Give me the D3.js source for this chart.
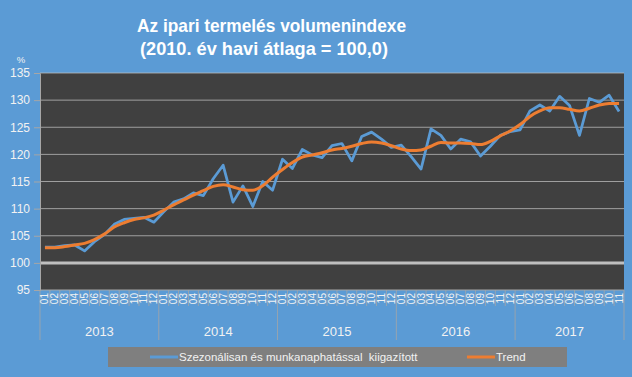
<!DOCTYPE html>
<html>
<head>
<meta charset="utf-8">
<script src="https://cdn.jsdelivr.net/npm/d3@7"></script>
<style>
  body { margin: 0; background: #5b9bd5; }
  svg { display: block; }
  text { font-family: "Liberation Sans", Arial, sans-serif; }
</style>
</head>
<body>
<div id="wrapper"></div>
<script>
const years = [2013, 2014, 2015, 2016, 2017]
const monthLabels = ["01", "02", "03", "04", "05", "06", "07", "08", "09", "10", "11", "12"]
const monthsInYear = [12, 12, 12, 12, 11]

const adjusted = [
  102.9, 102.9, 103.2, 103.3, 102.2, 103.9, 105.2, 107.1, 108.0, 108.2, 108.4, 107.5,
  109.4, 111.2, 111.8, 112.9, 112.4, 115.5, 118.0, 111.2, 114.2, 110.4, 115.0, 113.4,
  119.1, 117.4, 120.9, 119.9, 119.4, 121.6, 122.0, 118.8, 123.3, 124.1, 122.8, 121.3,
  121.7, 119.6, 117.3, 124.7, 123.5, 121.0, 122.8, 122.3, 119.7, 121.5, 123.5, 124.2,
  124.5, 128.0, 129.1, 128.0, 130.7, 129.0, 123.5, 130.3, 129.6, 130.9, 127.9
]
const trend = [
  102.8, 102.8, 103.0, 103.3, 103.6, 104.3, 105.3, 106.6, 107.4, 108.0, 108.3, 108.8,
  109.7, 110.7, 111.6, 112.5, 113.3, 114.1, 114.4, 114.0, 113.5, 113.4, 114.2, 115.8,
  117.2, 118.5, 119.5, 119.9, 120.3, 120.8, 121.1, 121.5, 122.0, 122.3, 122.1, 121.6,
  121.0, 120.7, 120.8, 121.5, 122.2, 122.1, 122.1, 122.0, 121.8, 122.4, 123.4, 124.3,
  125.5, 127.0, 128.0, 128.6, 128.6, 128.3, 128.0, 128.5, 129.1, 129.4, 129.4
]
const yTicks = [95, 100, 105, 110, 115, 120, 125, 130, 135]
const titleLines = ["Az ipari termelés volumenindexe", "(2010. év havi átlaga = 100,0)"]
const seriesNames = ["Szezonálisan és munkanaphatással  kiigazított", "Trend"]
const colors = ["#5b9bd5", "#ed7d31"]

function drawChart() {
  // categories: one per month
  const categories = []
  years.forEach((yr, j) => {
    for (let m = 0; m < monthsInYear[j]; m++) {
      categories.push({ key: yr + "-" + monthLabels[m], year: yr, month: monthLabels[m] })
    }
  })

  let dimensions = {
    width: 632,
    height: 377,
    margin: { top: 73, right: 8, bottom: 87, left: 40 },
  }
  dimensions.boundedWidth = dimensions.width - dimensions.margin.left - dimensions.margin.right
  dimensions.boundedHeight = dimensions.height - dimensions.margin.top - dimensions.margin.bottom

  const xScale = d3.scaleBand()
      .domain(categories.map(d => d.key))
      .range([0, dimensions.boundedWidth])
      .padding(0)

  const yScale = d3.scaleLinear()
      .domain([95, 135])
      .range([dimensions.boundedHeight, 0])

  const xPos = (d, i) => xScale(categories[i].key) + xScale.bandwidth() / 2

  const wrapper = d3.select("#wrapper")
    .append("svg")
      .attr("width", dimensions.width)
      .attr("height", dimensions.height)

  wrapper.append("rect")
      .attr("width", dimensions.width)
      .attr("height", dimensions.height)
      .attr("fill", "#5b9bd5")

  // title (narrow Calibri-like look)
  const titleX = [271.5, 264]
  const titleW = [269, 248]
  wrapper.append("g")
    .selectAll("text")
    .data(titleLines)
    .join("text")
      .attr("x", (d, i) => titleX[i] - titleW[i] / 2)
      .attr("y", (d, i) => 32 + i * 23)
      .attr("textLength", (d, i) => titleW[i])
      .attr("lengthAdjust", "spacingAndGlyphs")
      .attr("fill", "#ffffff")
      .style("font-weight", "bold")
      .style("font-size", "19px")
      .text(d => d)

  wrapper.append("text")
      .attr("x", 21)
      .attr("y", 63)
      .attr("text-anchor", "middle")
      .attr("fill", "#f2f2f2")
      .style("font-size", "9.5px")
      .text("%")

  const bounds = wrapper.append("g")
      .attr("transform", `translate(${dimensions.margin.left},${dimensions.margin.top})`)

  bounds.append("rect")
      .attr("width", dimensions.boundedWidth)
      .attr("height", dimensions.boundedHeight)
      .attr("fill", "#404040")

  // gridlines
  bounds.append("g")
    .selectAll("line")
    .data(yTicks.filter(t => t !== 95))
    .join("line")
      .attr("x1", 0)
      .attr("x2", dimensions.boundedWidth)
      .attr("y1", d => yScale(d))
      .attr("y2", d => yScale(d))
      .attr("stroke", "#bfbfbf")
      .attr("stroke-width", d => d === 100 ? 3 : 1)
      .attr("opacity", d => d === 100 ? 1 : 0.75)

  // y axis
  const yAxisGenerator = d3.axisLeft()
    .scale(yScale)
    .tickValues(yTicks)
    .tickSize(6)
    .tickPadding(4)

  const yAxis = bounds.append("g")
    .call(yAxisGenerator)
  yAxis.select(".domain").attr("stroke", "#a6a6a6")
  yAxis.selectAll(".tick line").attr("stroke", "#a6a6a6")
  yAxis.selectAll(".tick text")
      .attr("fill", "#f2f2f2")
      .style("font-size", "12px")
      .style("font-family", "'Liberation Sans', sans-serif")

  // x axis: month labels + separators
  const xAxis = bounds.append("g")
      .attr("transform", `translate(0,${dimensions.boundedHeight})`)

  xAxis.append("line")
      .attr("x1", 0)
      .attr("x2", dimensions.boundedWidth)
      .attr("stroke", "#a6a6a6")

  xAxis.selectAll(".sep")
    .data(categories)
    .join("line")
      .attr("class", "sep")
      .attr("x1", d => xScale(d.key))
      .attr("x2", d => xScale(d.key))
      .attr("y1", 0)
      .attr("y2", d => d.month === "01" ? 50 : 16)
      .attr("stroke", "#a6a6a6")
      .attr("stroke-width", 0.8)

  xAxis.append("line")
      .attr("x1", dimensions.boundedWidth)
      .attr("x2", dimensions.boundedWidth)
      .attr("y1", 0)
      .attr("y2", 50)
      .attr("stroke", "#a6a6a6")
      .attr("stroke-width", 0.8)

  xAxis.selectAll(".month")
    .data(categories)
    .join("text")
      .attr("class", "month")
      .attr("transform", d => `translate(${xScale(d.key) + xScale.bandwidth() / 2 + 3.5},3) rotate(-90)`)
      .attr("text-anchor", "end")
      .attr("fill", "#f2f2f2")
      .style("font-size", "10px")
      .text(d => d.month)

  xAxis.selectAll(".year")
    .data(years)
    .join("text")
      .attr("class", "year")
      .attr("x", yr => {
        const keys = categories.filter(c => c.year === yr)
        const x0 = xScale(keys[0].key)
        const x1 = xScale(keys[keys.length - 1].key) + xScale.bandwidth()
        return (x0 + x1) / 2
      })
      .attr("y", 46)
      .attr("text-anchor", "middle")
      .attr("fill", "#f2f2f2")
      .style("font-size", "13px")
      .text(d => d)

  // lines
  const adjustedLine = d3.line()
      .x(xPos)
      .y(d => yScale(d))

  const trendLine = d3.line()
      .x(xPos)
      .y(d => yScale(d))
      .curve(d3.curveMonotoneX)

  bounds.append("path")
      .attr("d", adjustedLine(adjusted))
      .attr("fill", "none")
      .attr("stroke", colors[0])
      .attr("stroke-width", 2.75)
      .attr("stroke-linejoin", "round")

  bounds.append("path")
      .attr("d", trendLine(trend))
      .attr("fill", "none")
      .attr("stroke", colors[1])
      .attr("stroke-width", 3)
      .attr("stroke-linejoin", "round")

  // legend
  const legend = wrapper.append("g")
  legend.append("rect")
      .attr("x", 108)
      .attr("y", 347)
      .attr("width", 459)
      .attr("height", 20)
      .attr("fill", "#7f7f7f")

  const legendX = [150, 467]
  const items = legend.selectAll(".item")
    .data(seriesNames)
    .join("g")
      .attr("class", "item")
      .attr("transform", (d, i) => `translate(${legendX[i]},357)`)

  items.append("line")
      .attr("x1", 0)
      .attr("x2", 28)
      .attr("stroke", (d, i) => colors[i])
      .attr("stroke-width", 3)

  items.append("text")
      .attr("x", 29)
      .attr("y", 4)
      .attr("fill", "#f2f2f2")
      .style("font-size", "11.5px")
      .style("white-space", "pre")
      .text(d => d)
}

drawChart()
</script>
</body>
</html>
